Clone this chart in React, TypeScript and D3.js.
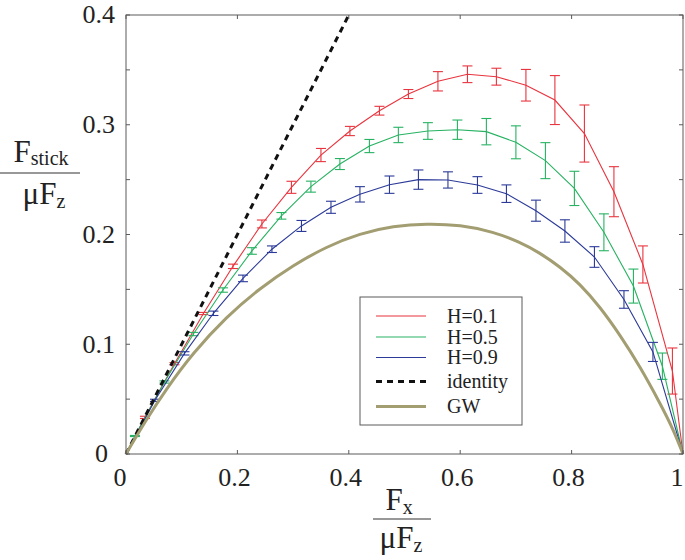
import React from "react";
import * as d3 from "d3";

// ---- data ----
const redX = [0.034, 0.087, 0.139, 0.192, 0.244, 0.297, 0.350, 0.402, 0.455, 0.507, 0.560, 0.613, 0.665, 0.718, 0.770, 0.823, 0.876, 0.928, 0.981];
const redY = [0.0334, 0.0823, 0.128, 0.171, 0.2096, 0.243, 0.2724, 0.2943, 0.3128, 0.328, 0.3396, 0.346, 0.3438, 0.336, 0.3225, 0.292, 0.239, 0.1727, 0.0756];
const redErr = [0.001, 0.001, 0.001, 0.002, 0.0036, 0.0055, 0.006, 0.0042, 0.004, 0.0041, 0.0088, 0.0076, 0.0077, 0.0144, 0.0223, 0.026, 0.0228, 0.0169, 0.021];

const greenX = [0.016, 0.069, 0.121, 0.174, 0.226, 0.279, 0.332, 0.384, 0.437, 0.489, 0.542, 0.595, 0.647, 0.700, 0.753, 0.805, 0.858, 0.911, 0.963];
const greenY = [0.0164, 0.0656, 0.1093, 0.1494, 0.185, 0.217, 0.2436, 0.2642, 0.2806, 0.2907, 0.2943, 0.2955, 0.2937, 0.284, 0.2673, 0.242, 0.202, 0.153, 0.080];
const greenErr = [0.0005, 0.001, 0.0015, 0.002, 0.003, 0.003, 0.005, 0.005, 0.006, 0.007, 0.0076, 0.0088, 0.012, 0.015, 0.0164, 0.0156, 0.0168, 0.0155, 0.012];

const blueX = [0.052, 0.105, 0.157, 0.210, 0.262, 0.315, 0.368, 0.420, 0.473, 0.525, 0.578, 0.631, 0.683, 0.736, 0.788, 0.841, 0.894, 0.946];
const blueY = [0.0489, 0.0917, 0.1282, 0.160, 0.1866, 0.2078, 0.2248, 0.2366, 0.2454, 0.250, 0.2497, 0.2451, 0.2372, 0.2217, 0.2032, 0.1795, 0.1408, 0.093];
const blueErr = [0.001, 0.0015, 0.002, 0.003, 0.003, 0.005, 0.0055, 0.007, 0.0079, 0.0088, 0.0074, 0.0076, 0.008, 0.0096, 0.0102, 0.0094, 0.008, 0.0087];

const gwX = [0, 0.036, 0.072, 0.12, 0.18, 0.24, 0.30, 0.36, 0.42, 0.48, 0.54, 0.60, 0.66, 0.707, 0.743, 0.779, 0.815, 0.851, 0.887, 0.923, 0.959, 0.983, 1];
const gwY = [0, 0.031, 0.059, 0.092, 0.125, 0.151, 0.172, 0.189, 0.201, 0.2077, 0.210, 0.2087, 0.2025, 0.193, 0.1833, 0.1707, 0.155, 0.134, 0.1084, 0.0795, 0.046, 0.0219, 0];

const identityX = [0, 0.4];

const xTicks = [0, 0.2, 0.4, 0.6, 0.8, 1];
const xTickLabels = ["0", "0.2", "0.4", "0.6", "0.8", "1"];
const yTicks = [0, 0.1, 0.2, 0.3, 0.4];
const yTickLabels = ["0", "0.1", "0.2", "0.3", "0.4"];
const yMinorTicks = [0.05, 0.15, 0.25, 0.35];

const legendLabels = ["H=0.1", "H=0.5", "H=0.9", "identity", "GW"];

const RED = "#e8343e";
const GREEN = "#27b262";
const BLUE = "#2b3a98";
const GW = "#a39d72";
const FONT = "'Liberation Serif', 'Times New Roman', serif";

export default function App() {
  const L = 126, R = 683, T = 15, B = 454;
  const x = d3.scaleLinear().domain([0, 1]).range([L, R]);
  const y = d3.scaleLinear().domain([0, 0.4]).range([B, T]);
  const line = d3.line<[number, number]>().x((d) => x(d[0])).y((d) => y(d[1]));
  const smooth = d3
    .line<[number, number]>()
    .x((d) => x(d[0]))
    .y((d) => y(d[1]))
    .curve(d3.curveBasis);

  const series = [
    { xs: redX, ys: redY, es: redErr, color: RED },
    { xs: greenX, ys: greenY, es: greenErr, color: GREEN },
    { xs: blueX, ys: blueY, es: blueErr, color: BLUE },
  ];

  const cap = 5;
  const tick = 4;
  const axisColor = "#5a5a5a";

  const legendRows = [316, 337, 357.5, 381.5, 406.5];

  return (
    <svg
      width={685}
      height={560}
      style={{ position: "absolute", left: 0, top: 0, background: "#fff" }}
      fontFamily={FONT}
    >
      <rect x={0} y={0} width={685} height={560} fill="#fff" />
      {/* series */}
      {series.map((s, i) => {
        const pts: [number, number][] = [[0, 0], ...s.xs.map((v, j) => [v, s.ys[j]] as [number, number]), [1, 0]];
        return (
          <g key={i}>
            <path d={line(pts) || ""} fill="none" stroke={s.color} strokeWidth={1.1} />
            {s.xs.map((v, j) => {
              const cx = x(v);
              const y1 = y(s.ys[j] - s.es[j]);
              const y2 = y(s.ys[j] + s.es[j]);
              return (
                <g key={j} stroke={s.color} strokeWidth={1.1}>
                  <line x1={cx} x2={cx} y1={y1} y2={y2} />
                  <line x1={cx - cap} x2={cx + cap} y1={y1} y2={y1} />
                  <line x1={cx - cap} x2={cx + cap} y1={y2} y2={y2} />
                </g>
              );
            })}
          </g>
        );
      })}
      {/* identity */}
      <path
        d={line(identityX.map((v) => [v, v] as [number, number])) || ""}
        fill="none"
        stroke="#111"
        strokeWidth={3}
        strokeDasharray="6,5"
      />
      {/* GW */}
      <path
        d={smooth(gwX.map((v, i) => [v, gwY[i]] as [number, number])) || ""}
        fill="none"
        stroke={GW}
        strokeWidth={3}
      />

      {/* frame */}
      <rect x={L} y={T} width={R - L} height={B - T} fill="none" stroke={axisColor} strokeWidth={1} />
      {xTicks.map((v, i) => (
        <g key={"xt" + i} stroke={axisColor}>
          <line x1={x(v)} x2={x(v)} y1={B} y2={B - tick} />
          <line x1={x(v)} x2={x(v)} y1={T} y2={T + tick} />
        </g>
      ))}
      {[...yTicks, ...yMinorTicks].map((v, i) => (
        <g key={"yt" + i} stroke={axisColor}>
          <line x1={L} x2={L + tick} y1={y(v)} y2={y(v)} />
          <line x1={R} x2={R - tick} y1={y(v)} y2={y(v)} />
        </g>
      ))}
      {xTicks.map((v, i) => (
        <text
          key={"xl" + i}
          x={x(v) - (xTickLabels[i].length === 1 ? 6 : 3)}
          y={486}
          textAnchor="middle"
          fontSize={26}
          fill="#222"
        >
          {xTickLabels[i]}
        </text>
      ))}
      {yTicks.map((v, i) => (
        <text
          key={"yl" + i}
          x={yTickLabels[i].length === 1 ? 108 : 115}
          y={y(v)}
          dy="0.32em"
          textAnchor="end"
          fontSize={26}
          fill="#222"
        >
          {yTickLabels[i]}
        </text>
      ))}

      {/* y title */}
      <text x={41} y={162} textAnchor="middle" fontSize={31} fill="#222">
        F<tspan fontSize={20} dy={3}>stick</tspan>
      </text>
      <line x1={0} x2={80} y1={173} y2={173} stroke="#333" strokeWidth={1.2} />
      <text x={44} y={204} textAnchor="middle" fontSize={31} fill="#222">
        μF<tspan fontSize={20} dy={4}>z</tspan>
      </text>

      {/* x title */}
      <text x={399} y={510} textAnchor="middle" fontSize={31} fill="#222">
        F<tspan fontSize={20} dy={4}>x</tspan>
      </text>
      <line x1={373} x2={431} y1={519} y2={519} stroke="#333" strokeWidth={1.2} />
      <text x={401} y={548} textAnchor="middle" fontSize={31} fill="#222">
        μF<tspan fontSize={20} dy={4}>z</tspan>
      </text>

      {/* legend */}
      <rect x={360} y={297} width={162} height={128} fill="#fff" stroke={axisColor} strokeWidth={1} />
      {legendLabels.map((lab, i) => {
        const ly = legendRows[i];
        const styles = [
          { stroke: RED, w: 1.1, dash: undefined },
          { stroke: GREEN, w: 1.1, dash: undefined },
          { stroke: BLUE, w: 1.1, dash: undefined },
          { stroke: "#111", w: 3, dash: "6,5" },
          { stroke: GW, w: 3, dash: undefined },
        ][i];
        return (
          <g key={"lg" + i}>
            <line x1={376} x2={426} y1={ly} y2={ly} stroke={styles.stroke} strokeWidth={styles.w} strokeDasharray={styles.dash} />
            <text x={447} y={ly} dy="0.33em" fontSize={20} fill="#222">
              {lab}
            </text>
          </g>
        );
      })}
    </svg>
  );
}
